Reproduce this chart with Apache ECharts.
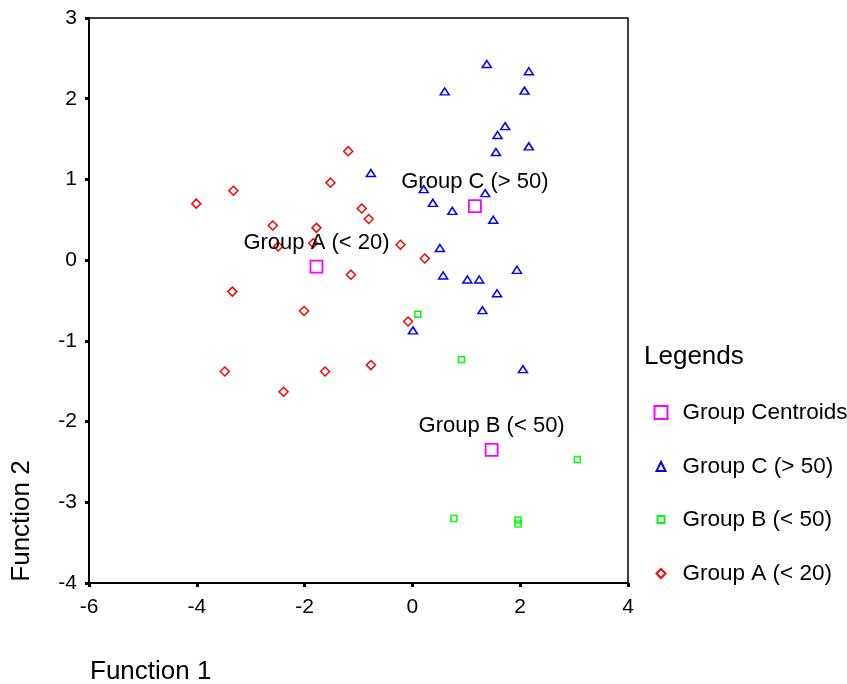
<!DOCTYPE html>
<html>
<head>
<meta charset="utf-8">
<script src="https://cdn.jsdelivr.net/npm/echarts@6/dist/echarts.min.js"></script>
<style>
  html, body { margin: 0; padding: 0; background: #fff; }
  #chart { width: 847px; height: 684px; }
</style>
</head>
<body>
<div id="chart"></div>
<script>
// Group A (< 20)
const groupAX = [-1.19, -3.32, -4.01, -1.52, -0.94, -0.81, -2.59, -1.78, -1.84, -2.49, -0.22, 0.23, -1.14, -3.34, -2.01, -0.08, -3.48, -1.62, -0.77, -2.39]
const groupAY = [1.35, 0.86, 0.70, 0.96, 0.64, 0.51, 0.43, 0.40, 0.21, 0.17, 0.19, 0.02, -0.18, -0.39, -0.63, -0.76, -1.38, -1.38, -1.30, -1.63]
// Group B (< 50)
const groupBX = [0.10, 0.91, 3.06, 0.77, 1.96, 1.96]
const groupBY = [-0.67, -1.23, -2.47, -3.20, -3.22, -3.27]
// Group C (> 50)
const groupCX = [1.38, 2.16, 0.60, 2.08, 1.72, 1.58, 2.16, 1.55, 0.21, 1.35, 0.38, 0.74, 1.50, 0.51, 1.94, 0.57, 1.02, 1.24, 1.57, 1.30, 0.01, -0.77, 2.05]
const groupCY = [2.43, 2.34, 2.09, 2.10, 1.66, 1.55, 1.41, 1.34, 0.88, 0.83, 0.71, 0.61, 0.50, 0.15, -0.12, -0.19, -0.24, -0.24, -0.41, -0.62, -0.87, 1.08, -1.35]
// centroids
const centroidNames = ['Group A (< 20)', 'Group B (< 50)', 'Group C (> 50)']
const centroidX = [-1.78, 1.47, 1.16]
const centroidY = [-0.08, -2.35, 0.67]
// axes
const xTicks = [-6, -4, -2, 0, 2, 4]
const yTicks = [-4, -3, -2, -1, 0, 1, 2, 3]

const font = '"Liberation Sans", Arial, sans-serif'
const zip = (xs, ys) => xs.map((x, i) => [x, ys[i]])

const chart = echarts.init(document.getElementById('chart'), null, { renderer: 'canvas' })

// 一个图例一个组件，各自的图标大小不同
function legendItem(name, top, size, padLeft) {
  return {
    data: [name],
    orient: 'vertical',
    left: 655 - size / 2,
    top: top,
    itemWidth: size,
    itemHeight: size,
    selectedMode: false,
    textStyle: { fontFamily: font, fontSize: 22.5, color: '#000', padding: [0, 0, 0, padLeft] }
  }
}

const option = {
  animation: false,
  backgroundColor: '#fff',
  textStyle: { fontFamily: font },
  grid: {
    left: 89, top: 18, right: 219, bottom: 101,
    show: true, borderColor: '#000', borderWidth: 1.5, backgroundColor: 'transparent'
  },
  title: {
    text: 'Legends',
    left: 639,
    top: 339,
    textStyle: { fontFamily: font, fontSize: 26, fontWeight: 'normal', color: '#000' }
  },
  legend: [
    legendItem('Group Centroids', 396, 13, 10),
    legendItem('Group C (> 50)', 450, 9, 12),
    legendItem('Group B (< 50)', 503, 7, 13),
    legendItem('Group A (< 20)', 557, 9, 12)
  ],
  xAxis: {
    type: 'value',
    min: xTicks[0], max: xTicks[xTicks.length - 1], interval: 2,
    splitLine: { show: false },
    axisLine: { show: true, onZero: false, lineStyle: { color: '#000', width: 2 } },
    axisTick: { show: true, length: 4, lineStyle: { color: '#000', width: 3 } },
    axisLabel: { fontFamily: font, fontSize: 21, color: '#000', margin: 14 }
  },
  yAxis: {
    type: 'value',
    min: yTicks[0], max: yTicks[yTicks.length - 1], interval: 1,
    splitLine: { show: false },
    axisLine: { show: true, onZero: false, lineStyle: { color: '#000', width: 2 } },
    axisTick: { show: true, length: 4, lineStyle: { color: '#000', width: 3 } },
    axisLabel: { fontFamily: font, fontSize: 21, color: '#000', margin: 12 }
  },
  graphic: [
    {
      type: 'text', left: 90, top: 659,
      style: { text: 'Function 1', font: '26px ' + font, fill: '#000' }
    },
    {
      type: 'text', x: 22, y: 521, rotation: Math.PI / 2,
      style: { text: 'Function 2', font: '26px ' + font, fill: '#000', align: 'center', verticalAlign: 'middle' }
    }
  ],
  series: [
    {
      name: 'Group A (< 20)', type: 'scatter', symbol: 'diamond', symbolSize: 9,
      itemStyle: { color: 'rgba(255,255,255,0)', borderColor: '#ff0000', borderWidth: 1.5, opacity: 1 },
      data: zip(groupAX, groupAY)
    },
    {
      name: 'Group B (< 50)', type: 'scatter', symbol: 'rect', symbolSize: 6,
      itemStyle: { color: 'rgba(255,255,255,0)', borderColor: '#00ff00', borderWidth: 1.5, opacity: 1 },
      data: zip(groupBX, groupBY)
    },
    {
      name: 'Group C (> 50)', type: 'scatter', symbol: 'triangle', symbolSize: [9, 7],
      itemStyle: { color: 'rgba(255,255,255,0)', borderColor: '#0000ff', borderWidth: 1.5, opacity: 1 },
      data: zip(groupCX, groupCY)
    },
    {
      name: 'Group Centroids', type: 'scatter', symbol: 'rect', symbolSize: 12,
      itemStyle: { color: 'rgba(255,255,255,0)', borderColor: '#ff00ff', borderWidth: 1.8, opacity: 1 },
      label: {
        show: true, position: 'top', distance: 6,
        formatter: p => p.data.name,
        fontFamily: font, fontSize: 22, color: '#000'
      },
      z: 3,
      data: centroidNames.map((n, i) => ({ name: n, value: [centroidX[i], centroidY[i]] }))
    }
  ]
}

chart.setOption(option)
</script>
</body>
</html>
